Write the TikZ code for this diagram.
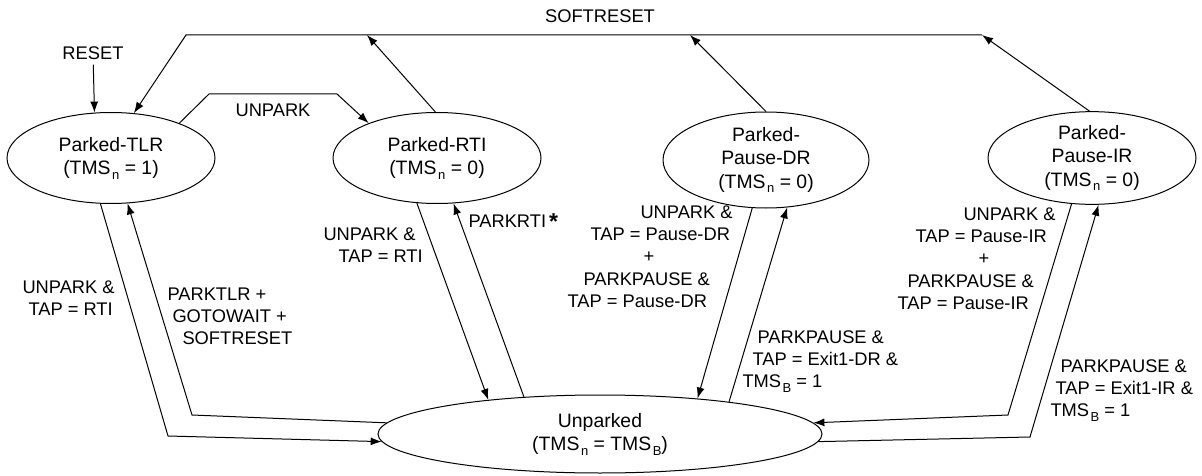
\documentclass[tikz,border=0pt]{standalone}
\usepackage{fontspec}
\setmainfont{Liberation Sans}
\usetikzlibrary{arrows.meta,shapes.geometric}
\newcommand{\lowsub}[1]{\hspace{1.5pt}\raisebox{-4.5pt}{\fontsize{13}{13}\selectfont #1}}
\newcommand{\tmsn}{TMS\lowsub{n}}
\newcommand{\tmsb}{TMS\lowsub{B}}

\begin{document}
\begin{tikzpicture}[x=1pt, y=-1pt, line width=1pt,
  every node/.style={font=\fontsize{18.3}{22.3}\selectfont, inner sep=0pt},
  state/.style={draw, ellipse, align=center, minimum width=208pt, minimum height=91pt,
    font=\fontsize{19.4}{23.5}\selectfont},
  lbl/.style={align=left, anchor=north west},
  tr/.style={-{Latex[length=11pt,width=8pt]}}]
\useasboundingbox (0,0) rectangle (1202,476);

\node[state] (tlr) at (111,158) {Parked-TLR\\(\tmsn{} = 1)};
\node[state] (rti) at (437,158) {Parked-RTI\\(\tmsn{} = 0)};
\node[state, minimum width=206pt, minimum height=96pt] (dr) at (766,160) {Parked-\\Pause-DR\\(\tmsn{} = 0)};
\node[state] (ir) at (1092,158) {Parked-\\Pause-IR\\(\tmsn{} = 0)};
\node[state, minimum width=444pt, minimum height=78pt] (unp) at (600,434) {Unparked\\(\tmsn{} = \tmsb)};

\node[anchor=base, inner sep=4pt] (reset) at (93,60) {RESET};
\node[anchor=base] (softreset) at (600,23) {SOFTRESET};
\node[anchor=base] (unpark) at (273,117) {UNPARK};

\coordinate (srl) at (186,35);
\coordinate (sr1) at (367,35);
\coordinate (sr2) at (690,35);
\coordinate (sr3) at (982,35);
\coordinate (u1) at (209,94);
\coordinate (u2) at (337,94);
\coordinate (t1) at (168,436);
\coordinate (t2) at (192,415);
\coordinate (i1) at (1008,415);
\coordinate (i2) at (1030,437);

\draw[tr] (reset) -- (tlr.110);
\draw[tr] (sr3) -- (srl) -- (tlr.63);
\draw[tr] (rti.92) -- (sr1);
\draw[tr] (dr.north) -- (sr2);
\draw[tr] (ir.93) -- (sr3);
\draw[tr] (tlr.27) -- (u1) -- (u2) -- (rti.153);

\draw[tr] (tlr.-103) -- (t1) -- (unp.182);
\draw[tr] (unp.177) -- (t2) -- (tlr.-70);
\draw[tr] (rti.-114) -- (unp.163);
\draw[tr] (unp.154) -- (rti.-70);
\draw[tr] (dr.-106) -- (unp.20);
\draw[tr] (unp.14) -- (dr.-66);
\draw[tr] (ir.-114) -- (i1) -- (unp.3);
\draw[tr] (unp.-2) -- (i2) -- (ir.-82);

\node[lbl] (ltlr) at (22,280) {UNPARK \&\\\hspace*{6pt}TAP = RTI};
\node[lbl] (lparktlr) at (167,287) {PARKTLR +\\\hspace*{5pt}GOTOWAIT +\\\hspace*{15pt}SOFTRESET};
\node[lbl] (lrti) at (323,227) {UNPARK \&\\\hspace*{15pt}TAP = RTI};
\node[anchor=base west] (lparkrti) at (468,227) {PARKRTI\,\raisebox{-2pt}{\fontsize{23}{23}\selectfont\bfseries *}};
\node[lbl] (ldr) at (567,205) {\hspace*{73pt}UNPARK \&\\\hspace*{23pt}TAP = Pause-DR\\\hspace*{76pt}+\\\hspace*{16pt}PARKPAUSE \&\\TAP = Pause-DR};
\node[lbl] (lexdr) at (742,330) {\hspace*{15pt}PARKPAUSE \&\\\hspace*{10pt}TAP = Exit1-DR \&\\\tmsb{} = 1};
\node[lbl] (lir) at (897,207) {\hspace*{66pt}UNPARK \&\\\hspace*{18pt}TAP = Pause-IR\\\hspace*{81pt}+\\\hspace*{10pt}PARKPAUSE \&\\TAP = Pause-IR};
\node[lbl] (lexir) at (1050,359) {\hspace*{10pt}PARKPAUSE \&\\\hspace*{5pt}TAP = Exit1-IR \&\\\tmsb{} = 1};
\end{tikzpicture}
\end{document}
